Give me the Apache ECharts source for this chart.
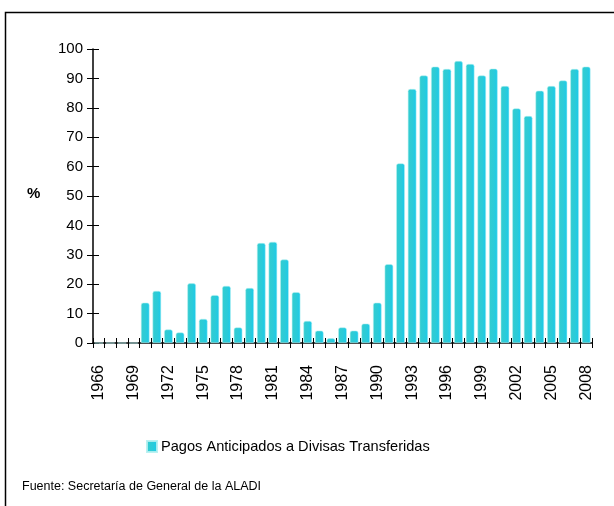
<!DOCTYPE html>
<html><head><meta charset="utf-8">
<script src="https://cdn.jsdelivr.net/npm/echarts@6/dist/echarts.min.js"></script>
<style>html,body{margin:0;padding:0;background:#fff}#c{width:614px;height:506px}</style>
</head><body><div id="c"></div>
<script>
const years = [];
for (let y = 1966; y <= 2008; y++) years.push(String(y));
const seriesName = 'Pagos Anticipados a Divisas Transferidas';
const values = [0,0,0,0,13.7,17.7,4.6,3.6,20.3,8.2,16.3,19.4,5.3,18.7,34.0,34.4,28.4,17.3,7.5,4.2,1.6,5.3,4.2,6.6,13.7,26.8,61.1,86.4,91.0,94.0,93.2,95.9,94.9,91.0,93.3,87.4,79.8,77.2,85.8,87.4,89.3,93.2,94.0];
const yTicks = [0,10,20,30,40,50,60,70,80,90,100];
const yLabel = '%';
const source = 'Fuente: Secretaría de General de la ALADI';

const chart = echarts.init(document.getElementById('c'), null, {renderer:'canvas'});
const font = 'Liberation Sans, Arial, sans-serif';
const barGrad = new echarts.graphic.LinearGradient(0,0,1,0,[{offset:0,color:'#34cccf'},{offset:0.6,color:'#2acbda'},{offset:1,color:'#18caec'}]);
chart.setOption({
  animation:false,
  grid:{left:93,top:49,right:22,bottom:163,containLabel:false},
  legend:{data:[seriesName],left:141,top:434,icon:'rect',itemWidth:10,itemHeight:11,itemGap:4,
    textStyle:{fontFamily:font,fontSize:14.6,color:'#000',padding:[0,0,0,-1]}},
  graphic:[
    {type:'rect',shape:{x:5.5,y:12.5,width:700,height:600},style:{fill:'none',stroke:'#000',lineWidth:1.5},silent:true},
    {type:'text',left:22,top:480,style:{text:source,fontFamily:font,fontSize:12.5,fill:'#000'}},
    {type:'text',left:27,top:186,style:{text:yLabel,fontFamily:font,fontSize:15,fontWeight:'bold',fill:'#000'}}
  ],
  xAxis:[{
    type:'category',data:years,boundaryGap:true,
    axisLine:{lineStyle:{color:'#000',width:1.5}},
    axisTick:{show:true,interval:0,length:5,lineStyle:{color:'#000'}},
    axisLabel:{interval:2,rotate:90,margin:22,fontFamily:font,fontSize:16,color:'#000'}
  },{
    type:'category',data:years,boundaryGap:true,position:'bottom',
    axisLine:{show:false},
    axisTick:{show:true,inside:true,interval:0,length:5,lineStyle:{color:'#000'}},
    axisLabel:{show:false}
  }],
  yAxis:[{
    type:'value',min:0,max:100,interval:10,
    axisLine:{show:true,lineStyle:{color:'#000',width:1.5}},
    axisTick:{show:true,length:6,lineStyle:{color:'#000'}},
    splitLine:{show:false},
    axisLabel:{margin:10,fontFamily:font,fontSize:15,color:'#000',
      formatter:v=>yTicks.includes(v)?String(v):''}
  },{
    type:'value',min:0,max:100,interval:10,position:'left',
    axisLine:{show:false},
    axisTick:{show:true,inside:true,length:6,lineStyle:{color:'#000'}},
    splitLine:{show:false},axisLabel:{show:false}
  }],
  series:[{
    name:seriesName,type:'bar',data:values,barWidth:'74%',
    itemStyle:{color:barGrad,borderRadius:[2,2,0,0],borderColor:'rgba(180,240,240,0.9)',borderWidth:0.6}
  }]
});
</script></body></html>
